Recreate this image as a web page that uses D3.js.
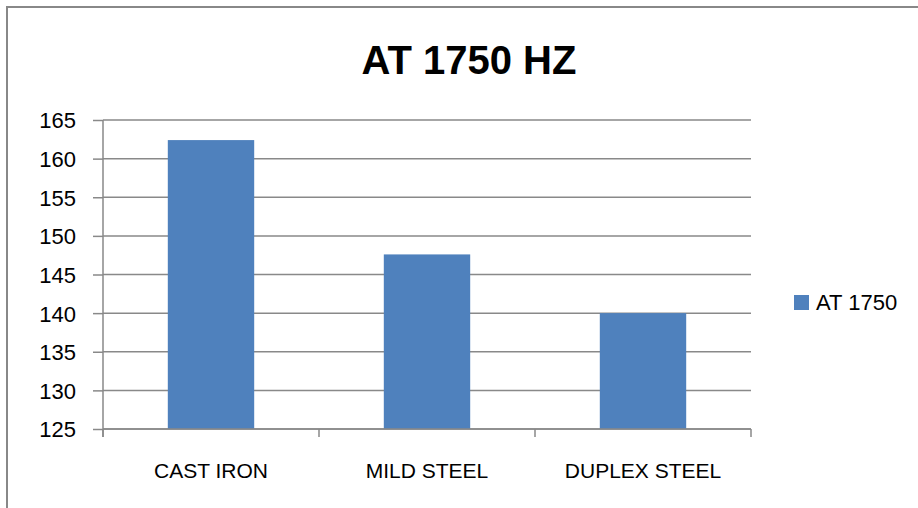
<!DOCTYPE html>
<html>
<head>
<meta charset="utf-8">
<script src="https://cdn.jsdelivr.net/npm/d3@7"></script>
<style>
  html, body { margin: 0; padding: 0; background: #fff; }
  svg text { font-family: "Liberation Sans", Arial, sans-serif; fill: #000; }
</style>
</head>
<body>
<div id="vis"></div>
<script>
// values
const categories = ["CAST IRON", "MILD STEEL", "DUPLEX STEEL"];
const values = [162.4, 147.6, 140.0];
const yTicks = [125, 130, 135, 140, 145, 150, 155, 160, 165];
const seriesName = "AT 1750";
const title = "AT 1750 HZ";

const width = 918, height = 508;
const margin = {left: 103, right: 167, top: 120, bottom: 79};

const svg = d3.select("#vis").append("svg")
  .attr("width", width)
  .attr("height", height);

// chart frame (runs off the right and bottom of the picture)
svg.append("rect")
  .attr("x", 7).attr("y", 7)
  .attr("width", width + 20).attr("height", height + 20)
  .attr("fill", "none")
  .attr("stroke", "#888")
  .attr("stroke-width", 2);

const xCat = d3.scaleBand()
  .domain(categories)
  .range([margin.left, width - margin.right]);

const xBar = d3.scaleBand()
  .domain(categories)
  .range([margin.left, width - margin.right])
  .paddingInner(0.6)
  .paddingOuter(0.3);

const y = d3.scaleLinear()
  .domain([125, 165])
  .range([height - margin.bottom, margin.top]);

const g = svg.append("g").attr("id", "bar-chart");

// gridlines
g.append("g")
  .selectAll("line")
  .data(yTicks)
  .join("line")
  .attr("x1", margin.left)
  .attr("x2", width - margin.right)
  .attr("y1", d => y(d))
  .attr("y2", d => y(d))
  .attr("stroke", "#898989")
  .attr("stroke-width", 1.5);

// bars
g.append("g")
  .selectAll("rect")
  .data(values)
  .join("rect")
  .attr("x", (d, i) => xBar(categories[i]))
  .attr("y", d => y(d))
  .attr("width", xBar.bandwidth())
  .attr("height", d => y(125) - y(d))
  .attr("fill", "#4f81bd");

// y axis
const yAxis = g.append("g")
  .attr("transform", `translate(${margin.left}, 0)`)
  .call(d3.axisLeft(y).tickValues(yTicks).tickSize(10).tickPadding(17).tickSizeOuter(0));
yAxis.select(".domain").remove();
yAxis.selectAll(".tick line").attr("stroke", "#898989").attr("stroke-width", 1.5);
yAxis.selectAll(".tick text").style("font-size", "22px").attr("dy", "0.36em");
yAxis.append("line")
  .attr("x1", 0).attr("x2", 0)
  .attr("y1", margin.top).attr("y2", height - margin.bottom + 8)
  .attr("stroke", "#898989").attr("stroke-width", 1.5);

// x axis: ticks on category boundaries, labels at centres
const xAxis = g.append("g")
  .attr("transform", `translate(0, ${height - margin.bottom})`);
xAxis.append("line")
  .attr("x1", margin.left).attr("x2", width - margin.right)
  .attr("stroke", "#898989").attr("stroke-width", 1.5);
const bounds = categories.map(c => xCat(c)).concat([xCat(categories[categories.length - 1]) + xCat.bandwidth()]);
xAxis.selectAll(".bound")
  .data(bounds)
  .join("line")
  .attr("class", "bound")
  .attr("x1", d => d).attr("x2", d => d)
  .attr("y1", 0).attr("y2", 8)
  .attr("stroke", "#898989").attr("stroke-width", 1.5);
xAxis.selectAll("text")
  .data(categories)
  .join("text")
  .attr("x", d => xCat(d) + xCat.bandwidth() / 2)
  .attr("y", 49)
  .attr("text-anchor", "middle")
  .style("font-size", "21px")
  .text(d => d);

// title
svg.append("text")
  .attr("x", 469)
  .attr("y", 74)
  .attr("text-anchor", "middle")
  .style("font-size", "40px")
  .style("font-weight", "bold")
  .text(title);

// legend
const legend = svg.append("g").attr("transform", "translate(794, 295)");
legend.append("rect")
  .attr("width", 15).attr("height", 15)
  .attr("fill", "#4f81bd");
legend.append("text")
  .attr("x", 22).attr("y", 15)
  .style("font-size", "22px")
  .text(seriesName);
</script>
</body>
</html>
